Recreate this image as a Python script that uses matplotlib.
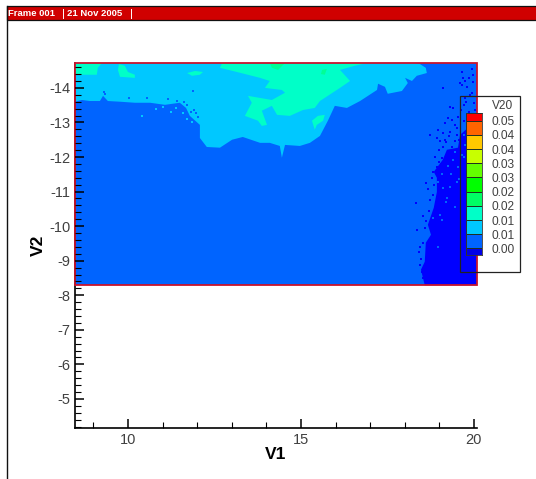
# Contour plot of V20 over V1 / V2
import matplotlib
matplotlib.use('Agg')
import matplotlib.pyplot as plt
from matplotlib.patches import Rectangle

plt.rcParams['font.family'] = ['Liberation Sans', 'DejaVu Sans']
plt.rcParams['axes.unicode_minus'] = False

# Plot limits
x_min, x_max = 8.47, 20.09
y_top, y_bottom = -14.72, -8.29
y_axis_end = -4.16

# Contour region outlines (V1, V2)
cyan_x = [8.47, 8.67, 8.90, 9.19, 9.28, 9.42, 9.77, 10.20, 10.64, 11.07, 11.50, 11.68, 11.79, 12.08,
          12.08, 12.28, 12.66, 13.01, 13.32, 13.82, 14.10, 14.39, 14.45, 14.54, 14.97, 15.26, 15.55,
          15.78, 15.98, 16.33, 16.71, 17.20, 17.23, 17.43, 17.51, 17.92, 18.09, 18.01, 18.21, 18.35,
          18.64, 18.61, 18.44, 18.30, 8.47]
cyan_y = [-13.60, -13.65, -13.62, -13.62, -13.77, -13.62, -13.60, -13.57, -13.57, -13.51, -13.57, -13.42,
          -13.19, -12.93, -12.55, -12.29, -12.27, -12.50, -12.58, -12.41, -12.41, -12.32, -11.98, -12.35,
          -12.32, -12.41, -12.61, -13.05, -13.48, -13.42, -13.62, -13.94, -14.12, -14.03, -13.83, -13.91,
          -14.14, -14.29, -14.20, -14.35, -14.43, -14.58, -14.69, -14.72, -14.72]

teal_x = [12.72, 16.91, 16.56, 16.13, 16.42, 16.13, 15.55, 15.40, 15.06, 14.68, 14.31, 14.16, 13.87, 14.02,
          13.87, 13.76, 13.38, 13.58, 13.47, 14.16, 14.54, 14.45, 13.96, 14.10, 13.82, 13.03, 12.66]
teal_y = [-14.72, -14.72, -14.64, -14.52, -14.20, -14.00, -13.62, -13.42, -13.36, -13.19, -13.22, -13.48,
          -13.34, -12.93, -12.90, -13.05, -13.19, -13.57, -13.77, -13.65, -13.86, -13.94, -14.00, -14.20,
          -14.29, -14.49, -14.58]

teal_a_x = [8.47, 9.25, 9.13, 9.10, 8.47]
teal_a_y = [-14.72, -14.72, -14.58, -14.38, -14.38]
teal_b_x = [9.74, 9.91, 10.00, 10.20, 10.20, 9.77, 9.71]
teal_b_y = [-14.69, -14.64, -14.46, -14.38, -14.29, -14.32, -14.52]
teal_c_x = [11.71, 11.94, 12.17, 12.08, 11.85]
teal_c_y = [-14.43, -14.49, -14.46, -14.38, -14.35]
teal_d_x = [15.32, 15.49, 15.69, 15.64, 15.46, 15.40]
teal_d_y = [-13.05, -13.19, -13.22, -13.05, -12.93, -12.79]

green_a_x = [14.10, 14.54, 14.34, 14.16]
green_a_y = [-14.72, -14.72, -14.52, -14.58]
green_b_x = [15.61, 15.75, 15.69, 15.58]
green_b_y = [-14.52, -14.55, -14.38, -14.40]

dark_x = [18.58, 18.47, 18.58, 18.61, 18.76, 18.67, 18.84, 18.93, 18.93, 18.84, 19.10, 19.22, 19.54, 19.60,
          20.09, 20.09]
dark_y = [-8.29, -8.74, -8.97, -9.52, -9.75, -10.04, -10.53, -10.99, -11.40, -11.57, -11.92, -12.21, -12.27,
          -12.64, -13.08, -8.29]

# Isolated cells
dark_speck_x = [19.65, 19.94, 19.97, 19.86, 19.74, 19.60, 19.97, 19.80, 19.65, 19.10, 19.94, 19.74, 19.31, 19.39,
                19.25, 19.36, 19.16, 19.45, 18.96, 19.10, 19.31, 18.93, 19.16, 18.73, 19.51, 19.36, 19.25, 19.39,
                19.07, 18.93, 18.81, 19.70, 19.85, 20.00, 19.70, 19.95, 19.80, 20.00, 18.61, 18.67, 18.73, 18.58,
                18.32, 18.35, 18.53, 18.44, 18.44, 18.50, 18.53, 18.81, 19.03, 19.20, 19.28, 19.44, 19.50, 19.57,
                19.00, 19.12, 19.22, 19.33, 18.88, 18.98, 19.06, 19.17, 19.88, 19.78, 19.62, 19.55, 19.90, 20.03,
                19.68, 18.78, 18.86, 18.70, 18.52, 18.62, 18.46, 18.40]
dark_speck_y = [-14.46, -14.55, -14.38, -14.29, -14.20, -14.14, -14.17, -14.03, -14.09, -14.00, -13.86, -13.71,
                -13.45, -13.42, -13.13, -13.08, -12.99, -12.93, -12.79, -12.70, -12.73, -12.55, -12.50, -12.64,
                -12.64, -12.29, -12.06, -12.06, -11.98, -11.72, -11.57, -13.50, -13.30, -13.55, -13.05, -13.00,
                -12.80, -12.75, -11.25, -11.08, -10.76, -9.95, -10.68, -9.90, -9.52, -9.40, -8.88, -8.68, -8.50,
                -10.91, -12.45, -12.42, -12.60, -12.45, -12.85, -12.50, -12.20, -12.30, -12.12, -12.18, -12.00,
                -11.86, -11.80, -11.95, -13.80, -13.60, -13.35, -13.15, -13.20, -13.35, -14.30, -11.40, -11.20,
                -10.45, -10.30, -10.15, -9.05, -9.25]
hole_x = [19.31, 19.10, 18.96, 19.51, 19.22, 19.02, 19.07, 19.45, 18.96, 18.81, 19.20, 19.40, 19.55, 19.25, 19.70,
          19.90, 19.85, 19.65, 19.45, 19.08, 19.33, 19.75, 20.00, 19.58, 19.72, 19.95]
hole_y = [-11.14, -11.11, -11.28, -11.28, -10.82, -10.33, -10.18, -10.56, -9.40, -10.24, -10.70, -11.90, -11.70,
          -11.75, -12.00, -12.20, -11.80, -12.05, -12.15, -11.50, -11.50, -12.35, -12.50, -11.35, -12.65, -12.85]
blue_speck_x = [9.33, 10.02, 10.55, 11.17, 11.43, 11.62, 11.72, 11.81, 11.88, 11.91, 11.98, 12.02, 9.30, 17.01]
blue_speck_y = [-13.82, -13.72, -13.70, -13.68, -13.62, -13.60, -13.50, -13.30, -13.90, -13.36, -13.26, -13.16,
                -13.88, -13.75]
cyan_speck_x = [10.80, 11.02, 11.24, 11.38, 11.60, 10.40, 11.72, 11.85]
cyan_speck_y = [-13.40, -13.45, -13.30, -13.42, -13.28, -13.20, -13.10, -13.02]

# Legend levels
level_values = [0.046, 0.041, 0.036, 0.031, 0.026, 0.021, 0.016, 0.011, 0.006, 0.001]
band_edges = [0.0486, 0.046, 0.041, 0.036, 0.031, 0.026, 0.021, 0.016, 0.011, 0.006, 0.001, -0.0013]
band_colors = ['#ff0000', '#ff6400', '#ffc800', '#c8ff00', '#64ff00', '#00ff00',
               '#00ff64', '#00ffc8', '#00c8ff', '#0064ff', '#0000e6']

x_major = [10, 15, 20]
x_minor = [9, 11, 12, 13, 14, 16, 17, 18, 19]
y_major = [-14, -13, -12, -11, -10, -9, -8, -7, -6, -5]
y_minor = [-14.6, -14.4, -14.2, -13.8, -13.6, -13.4, -13.2, -12.8, -12.6, -12.4, -12.2, -11.8, -11.6, -11.4, -11.2,
           -10.8, -10.6, -10.4, -10.2, -9.8, -9.6, -9.4, -9.2, -8.8, -8.6, -8.4, -8.2, -7.8, -7.6, -7.4, -7.2,
           -6.8, -6.6, -6.4, -6.2, -5.8, -5.6, -5.4, -5.2, -4.8, -4.6, -4.4, -4.2]

W, H = 536, 479
fig = plt.figure(figsize=(W / 100, H / 100), dpi=100)

# Main axes
ax = fig.add_axes([75 / W, 1 - 428 / H, 402 / W, 365 / H])
ax.set_xlim(x_min, x_max)
ax.set_ylim(y_axis_end, y_top)
ax.spines['top'].set_visible(False)
ax.spines['right'].set_visible(False)
ax.spines['left'].set_linewidth(1.2)
ax.spines['bottom'].set_linewidth(1.2)

# Filled contour bands
ax.add_patch(Rectangle((x_min, y_top), x_max - x_min, y_bottom - y_top, fc='#0064ff', ec='none', zorder=1))
ax.fill(cyan_x, cyan_y, color='#00c8ff', lw=0, zorder=2)
for px, py in [(teal_x, teal_y), (teal_a_x, teal_a_y), (teal_b_x, teal_b_y), (teal_c_x, teal_c_y), (teal_d_x, teal_d_y)]:
    ax.fill(px, py, color='#00ffc8', lw=0, zorder=3)
for px, py in [(green_a_x, green_a_y), (green_b_x, green_b_y)]:
    ax.fill(px, py, color='#00ff96', lw=0, zorder=4)
ax.fill(dark_x, dark_y, color='#0000ff', lw=0, zorder=2)

ax.scatter(dark_speck_x, dark_speck_y, s=2.5, marker='s', color='#0000ff', lw=0, zorder=3)
ax.scatter(hole_x, hole_y, s=2.5, marker='s', color='#0064ff', lw=0, zorder=3)
ax.scatter(blue_speck_x, blue_speck_y, s=2.5, marker='s', color='#0064ff', lw=0, zorder=5)
ax.scatter(cyan_speck_x, cyan_speck_y, s=2.5, marker='s', color='#00c8ff', lw=0, zorder=5)

# Red boundary
ax.add_patch(Rectangle((x_min, y_top), x_max - x_min, y_bottom - y_top, fc='none', ec='#c8142d', lw=1.3,
                       clip_on=False, zorder=6))

# Ticks
ax.set_xticks(x_major)
ax.set_xticks(x_minor, minor=True)
ax.set_yticks(y_major)
ax.set_yticks(y_minor, minor=True)
ax.tick_params(which='major', direction='in', length=6.5, width=1.1, labelsize=10.5, labelcolor='#404040')
ax.tick_params(which='minor', direction='in', length=4, width=0.8)
ax.tick_params(axis='x', pad=3.5)
ax.tick_params(axis='y', pad=3.5)
ax.xaxis.set_zorder(8)
ax.yaxis.set_zorder(8)
ax.set_xlabel('V1', fontsize=12.5, fontweight='bold', labelpad=0)
ax.set_ylabel('V2', fontsize=12.5, fontweight='bold', labelpad=2)

# Legend
leg = fig.add_axes([465.5 / W, 1 - 255 / H, 16.5 / W, 141.7 / H])
for i in range(len(band_colors)):
    leg.bar(0, band_edges[i] - band_edges[i + 1], bottom=band_edges[i + 1], width=1, color=band_colors[i],
            edgecolor='#203020', linewidth=0.7)
leg.set_xlim(-0.5, 0.5)
leg.set_ylim(band_edges[-1], band_edges[0])
leg.set_xticks([])
leg.yaxis.tick_right()
leg.set_yticks(level_values)
leg.set_yticklabels(['%.2f' % v for v in level_values])
leg.tick_params(axis='y', length=0, pad=7, labelsize=8.6, labelcolor='#404040')
for s in leg.spines.values():
    s.set_linewidth(0.6)
    s.set_color('#333333')
fig.text(492 / W, 1 - 106 / H, 'V20', fontsize=8.6, color='#404040', va='center')
fig.add_artist(Rectangle((460 / W, 1 - 272 / H), 59.5 / W, 176 / H, transform=fig.transFigure, fc='none',
                         ec='#222222', lw=0.9))

# Frame and header bar
fig.add_artist(Rectangle((6.5 / W, 1 - 19.5 / H), (W - 6) / W, 13 / H, transform=fig.transFigure, fc='#d00000',
                         ec='#111111', lw=0.9))
fig.add_artist(plt.Line2D([6.5 / W, 6.5 / W], [0, 1 - 6 / H], color='#111111', lw=1.0))
fig.add_artist(plt.Line2D([62.5 / W, 62.5 / W], [1 - 18 / H, 1 - 9 / H], color='white', lw=0.7))
fig.add_artist(plt.Line2D([130.5 / W, 130.5 / W], [1 - 18 / H, 1 - 9 / H], color='white', lw=0.7))
fig.text(8.5 / W, 1 - 13.5 / H, 'Frame 001', fontsize=6.8, fontweight='bold', color='white', va='center')
fig.text(67 / W, 1 - 13.5 / H, '21 Nov 2005', fontsize=6.8, fontweight='bold', color='white', va='center')

fig.savefig('out.png', dpi=100)
